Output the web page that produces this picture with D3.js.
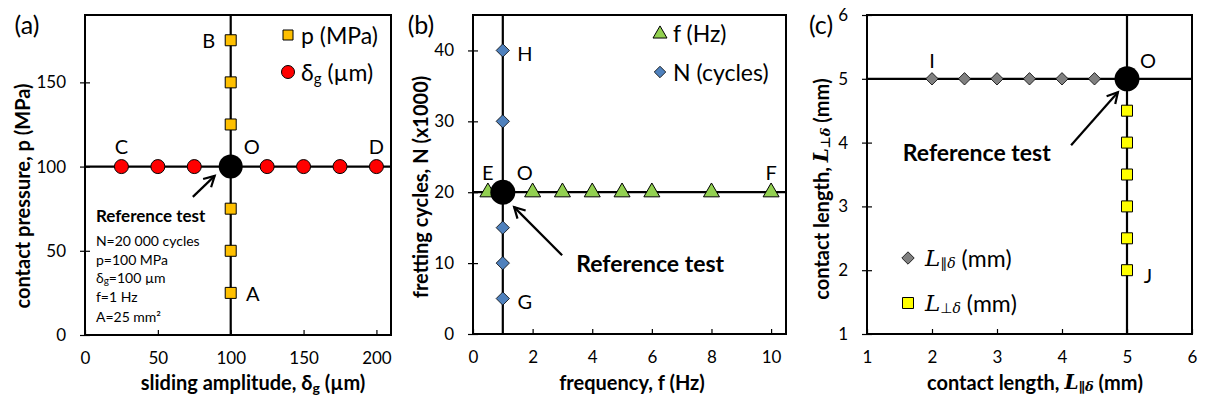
<!DOCTYPE html>
<html><head><meta charset="utf-8">
<script src="https://cdn.jsdelivr.net/npm/d3@7"></script>
<style>
html,body{margin:0;padding:0;background:#fff;}
text{font-family:Lato,"Liberation Sans",sans-serif;fill:#000;}
</style></head>
<body><svg id="c" width="1205" height="402"></svg>
<script>
// ---------- data ----------
// panel (a)
const aTicksX = [0,50,100,150,200];
const aTicksY = [0,50,100,150];
const aPressure = [25,50,75,125,150,175];      // p (MPa) at δg = 100
const aAmplitude = [25,50,75,125,150,175,200]; // δg (µm) at p = 100
const aRef = {x:100, y:100};
// panel (b)
const bTicksX = [0,2,4,6,8,10];
const bTicksY = [0,10,20,30,40];
const bFreq = [0.5,2,3,4,5,6,8,10];   // f (Hz) at N = 20
const bCycles = [5,10,15,30,40];      // N (x1000) at f = 1
const bRef = {x:1, y:20};
// panel (c)
const cTicksX = [1,2,3,4,5,6];
const cTicksY = [1,2,3,4,5,6];
const cPar = [2,2.5,3,3.5,4,4.5];     // L∥δ (mm) at L⊥δ = 5
const cPerp = [2,2.5,3,3.5,4,4.5];    // L⊥δ (mm) at L∥δ = 5
const cRef = {x:5, y:5};

const svg = d3.select("#c");
const font = 'Lato,"Liberation Sans",sans-serif';
const serif = '"DejaVu Serif","Liberation Serif",serif';
const symFont = '"DejaVu Sans",sans-serif';
const TICK = 17, TITLE = 20, LEG = 23, LET = 20, TITLE_Y = 382;

function panel(o){
  const g = svg.append("g");
  const x = d3.scaleLinear().domain(o.xd).range([o.x0,o.x1]);
  const y = d3.scaleLinear().domain(o.yd).range([o.y1,o.y0]);
  const xa = g.append("g").attr("transform",`translate(0,${o.y1})`)
    .call(d3.axisBottom(x).tickValues(o.tx).tickSize(-5).tickPadding(17).tickFormat(d3.format("d")));
  xa.select(".domain").remove();
  xa.selectAll("line").attr("stroke","#000").attr("stroke-width",1.2);
  xa.selectAll("text").attr("font-size",TICK).attr("font-family",font).attr("fill","#000");
  const ya = g.append("g").attr("transform",`translate(${o.x0},0)`)
    .call(d3.axisLeft(y).tickValues(o.ty).tickSize(5).tickPadding(o.ypad||14).tickFormat(d3.format("d")));
  ya.select(".domain").remove();
  ya.selectAll("line").attr("stroke","#000").attr("stroke-width",1.2).attr("x2",5).attr("x1",-5);
  ya.selectAll("text").attr("font-size",TICK).attr("font-family",font).attr("fill","#000");
  g.append("rect").attr("x",o.x0).attr("y",o.y0).attr("width",o.x1-o.x0).attr("height",o.y1-o.y0)
    .attr("fill","none").attr("stroke","#000").attr("stroke-width",2);
  g.append("line").attr("x1",x(o.ref.x)).attr("x2",x(o.ref.x)).attr("y1",o.y0).attr("y2",o.y1)
    .attr("stroke","#000").attr("stroke-width",2.2);
  g.append("line").attr("x1",o.x0).attr("x2",o.x1).attr("y1",y(o.ref.y)).attr("y2",y(o.ref.y))
    .attr("stroke","#000").attr("stroke-width",2.2);
  return {g,x,y};
}

function marker(g, type, cx, cy, size, fill){
  const sym = {square:d3.symbolSquare, circle:d3.symbolCircle, triangle:d3.symbolTriangle, diamond:d3.symbolDiamond2}[type];
  let area;
  if(type==="square") area=size*size;
  else if(type==="circle") area=Math.PI*size*size/4;
  else if(type==="triangle") area=size*size*0.433;
  else area=size*size/2;
  g.append("path").attr("d",d3.symbol().type(sym).size(area)())
    .attr("transform",`translate(${cx},${cy})`)
    .attr("fill",fill).attr("stroke","#000").attr("stroke-width",type==="diamond"?0.8:1);
}

function arrow(g, x1,y1,x2,y2){
  g.append("line").attr("x1",x1).attr("y1",y1).attr("x2",x2).attr("y2",y2)
    .attr("stroke","#000").attr("stroke-width",2.2);
  const ang = Math.atan2(y2-y1,x2-x1), L=12, w=0.5;
  const p = [[x2-L*Math.cos(ang-w), y2-L*Math.sin(ang-w)],[x2,y2],[x2-L*Math.cos(ang+w), y2-L*Math.sin(ang+w)]];
  g.append("path").attr("d",d3.line()(p)).attr("fill","none").attr("stroke","#000").attr("stroke-width",2.2);
}

function label(g, txt, x, y, size, anchor, weight){
  return g.append("text").attr("x",x).attr("y",y).attr("font-size",size)
    .attr("text-anchor",anchor||"middle").attr("dominant-baseline","central")
    .attr("font-weight",weight||"normal").text(txt);
}

function Lsub(t, sym, subSize, dy){
  t.append("tspan").attr("font-family",serif).attr("font-style","italic").text("L");
  t.append("tspan").attr("font-size",subSize).attr("font-family",symFont).attr("font-style","normal").attr("dy",dy).text(sym);
  t.append("tspan").attr("font-size",subSize).attr("font-family",serif).attr("font-style","italic").text("δ");
  t.append("tspan").attr("dy",-dy).text(" (mm)");
}

// ================= panel (a) =================
{
  const {g,x,y} = panel({x0:85,x1:391,y0:15,y1:335,xd:[0,210],yd:[0,190],tx:aTicksX,ty:aTicksY,ref:aRef});
  aAmplitude.forEach(v=>marker(g,"circle",x(v),y(aRef.y),14,"#FF0000"));
  aPressure.forEach(v=>marker(g,"square",x(aRef.x),y(v),11,"#FFC000"));
  g.append("circle").attr("cx",x(aRef.x)).attr("cy",y(aRef.y)).attr("r",12).attr("fill","#000");
  label(g,"B",x(aRef.x)-22,y(175),LET);
  label(g,"A",x(aRef.x)+22,y(25),LET);
  label(g,"C",x(25),y(100)-21,LET);
  label(g,"D",x(200),y(100)-21,LET);
  label(g,"O",x(aRef.x)+21,y(100)-21,LET);
  arrow(g,x(74),y(82),x(89),y(94.5));
  label(g,"Reference test",x(7.5),y(71),17,"start","bold");
  const info = g.append("text").attr("x",x(7.5)).attr("y",y(56.4)).attr("font-size",14).attr("dominant-baseline","central");
  info.append("tspan").attr("x",x(7.5)).text("N=20 000 cycles");
  info.append("tspan").attr("x",x(7.5)).attr("dy",18.5).text("p=100 MPa");
  info.append("tspan").attr("x",x(7.5)).attr("dy",18.5).text("δ");
  info.append("tspan").attr("font-size",10).attr("dy",3).text("g");
  info.append("tspan").attr("dy",-3).text("=100 µm");
  info.append("tspan").attr("x",x(7.5)).attr("dy",19).text("f=1 Hz");
  info.append("tspan").attr("x",x(7.5)).attr("dy",19.5).text("A=25 mm²");
  // legend
  marker(g,"square",288,35,10,"#FFC000");
  label(g,"p (MPa)",301,35,LEG,"start");
  marker(g,"circle",288,72,13,"#FF0000");
  const lt = label(g,"",301,72,LEG,"start");
  lt.append("tspan").text("δ");
  lt.append("tspan").attr("font-size",15).attr("dy",6).text("g");
  lt.append("tspan").attr("dy",-6).text(" (µm)");
  // axis titles
  const xt = svg.append("text").attr("x",253).attr("y",TITLE_Y).attr("text-anchor","middle")
    .attr("font-size",TITLE).attr("font-weight","bold").attr("dominant-baseline","central");
  xt.append("tspan").text("sliding amplitude, δ");
  xt.append("tspan").attr("font-size",14).attr("dy",5).text("g");
  xt.append("tspan").attr("dy",-5).text(" (µm)");
  svg.append("text").attr("transform","translate(22,196) rotate(-90)").attr("text-anchor","middle")
    .attr("font-size",TITLE).attr("font-weight","bold").attr("dominant-baseline","central")
    .text("contact pressure, p (MPa)");
  label(svg,"(a)",27,24,25);
}

// ================= panel (b) =================
{
  const {g,x,y} = panel({x0:473,x1:786,y0:15,y1:334,xd:[0,10.5],yd:[0,45],tx:bTicksX,ty:bTicksY,ref:bRef});
  bFreq.forEach(v=>marker(g,"triangle",x(v),y(bRef.y),16,"#92D050"));
  bCycles.forEach(v=>marker(g,"diamond",x(bRef.x),y(v),15,"#4F81BD"));
  g.append("circle").attr("cx",x(bRef.x)).attr("cy",y(bRef.y)).attr("r",12.5).attr("fill","#000");
  label(g,"H",x(1)+22,y(40)+3,LET);
  label(g,"G",x(1)+22,y(5)+2,LET);
  label(g,"E",x(0.5),y(20)-20,LET);
  label(g,"O",x(1)+22,y(20)-20,LET);
  label(g,"F",x(10),y(20)-20,LET);
  arrow(g,x(2.99),y(11.1),x(1.38),y(17.9));
  label(g,"Reference test",x(3.46),y(10),23,"start","bold");
  marker(g,"triangle",660,34,14,"#92D050");
  label(g,"f (Hz)",673,33,LEG,"start");
  marker(g,"diamond",660,72,13,"#4F81BD");
  label(g,"N (cycles)",673,72,LEG,"start");
  svg.append("text").attr("x",632).attr("y",TITLE_Y).attr("text-anchor","middle")
    .attr("font-size",TITLE).attr("font-weight","bold").attr("dominant-baseline","central")
    .text("frequency, f (Hz)");
  svg.append("text").attr("transform","translate(420,187) rotate(-90)").attr("text-anchor","middle")
    .attr("font-size",TITLE).attr("font-weight","bold").attr("dominant-baseline","central")
    .text("fretting cycles, N (x1000)");
  label(svg,"(b)",421,24,25);
}

// ================= panel (c) =================
{
  const {g,x,y} = panel({x0:867,x1:1192,y0:15,y1:334,xd:[1,6],yd:[1,6],tx:cTicksX,ty:cTicksY,ref:cRef,ypad:14});
  cPar.forEach(v=>marker(g,"diamond",x(v),y(cRef.y),14,"#808080"));
  cPerp.forEach(v=>marker(g,"square",x(cRef.x),y(v),11,"#FFFF00"));
  g.append("circle").attr("cx",x(cRef.x)).attr("cy",y(cRef.y)).attr("r",12.5).attr("fill","#000");
  label(g,"I",x(2),y(5)-19,LET);
  label(g,"O",x(5)+21,y(5)-19,LET);
  label(g,"J",x(5)+21,y(2)+5,LET);
  arrow(g,x(4.14),y(3.96),x(4.86),y(4.79));
  label(g,"Reference test",x(1.55),y(3.85),23,"start","bold");
  marker(g,"diamond",908,258,14,"#808080");
  Lsub(label(g,"",925,258,LEG,"start"),"∥",14,5);
  marker(g,"square",908,303,11,"#FFFF00");
  Lsub(label(g,"",925,303,LEG,"start"),"⊥",14,5);
  const xt = svg.append("text").attr("x",1035).attr("y",TITLE_Y).attr("text-anchor","middle")
    .attr("font-size",TITLE).attr("font-weight","bold").attr("dominant-baseline","central");
  xt.append("tspan").text("contact length, ");
  Lsub(xt,"∥",13,4);
  const yt = svg.append("text").attr("transform","translate(821,189) rotate(-90)").attr("text-anchor","middle")
    .attr("font-size",TITLE).attr("font-weight","bold").attr("dominant-baseline","central");
  yt.append("tspan").text("contact length, ");
  Lsub(yt,"⊥",13,4);
  label(svg,"(c)",821,24,25);
}
</script></body></html>
